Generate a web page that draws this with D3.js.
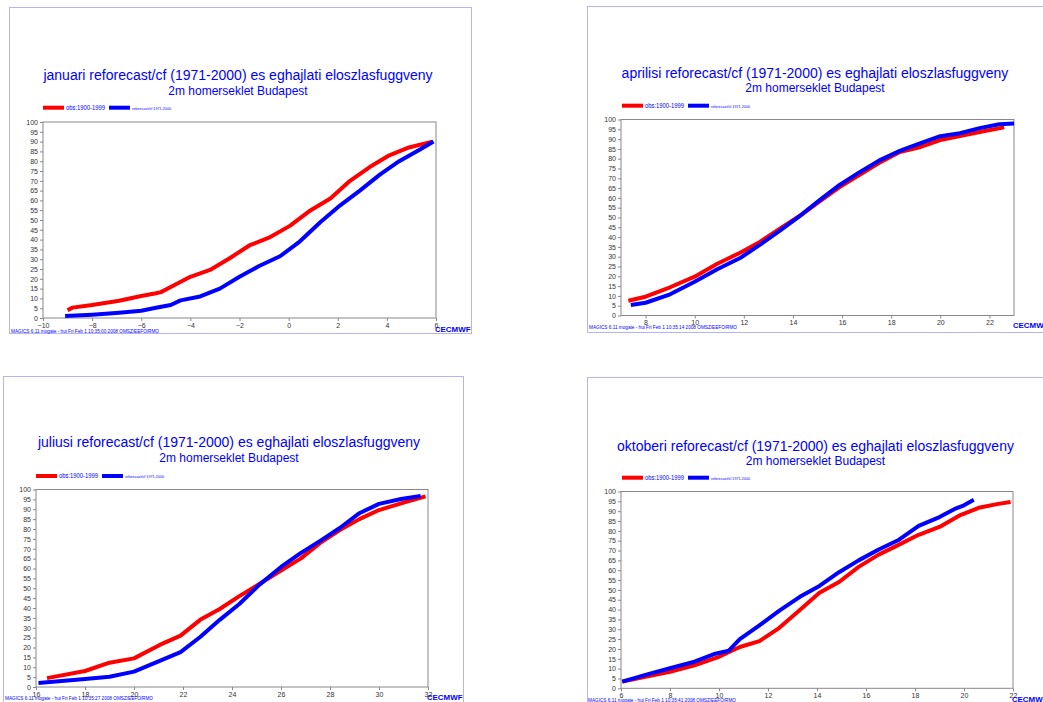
<!DOCTYPE html>
<html>
<head>
<meta charset="utf-8">
<style>
    body { margin: 0; background: white; }
    text { font-family: "Liberation Sans", Arial, sans-serif; }
</style>
</head>
<body>
<svg id="container" width="1043" height="702"></svg>
<script src="https://cdn.jsdelivr.net/npm/d3@7"></script>
<script>
    // month names used in the titles
    let months = ["januari", "aprilisi", "juliusi", "oktoberi"]
    let footTimes = ["10:35:00", "10:35:14", "10:35:27", "10:35:41"]
    let xDomains = [[-10, 6], [7, 23], [16, 32], [6, 22]]
    let xTicks = [
        [-10, -8, -6, -4, -2, 0, 2, 4, 6],
        [8, 10, 12, 14, 16, 18, 20, 22],
        [16, 18, 20, 22, 24, 26, 28, 30, 32],
        [6, 8, 10, 12, 14, 16, 18, 20, 22]
    ]
    let yTicks = d3.range(0, 101, 5)

    // [temperature, cumulative percent]
    let janObs = [[-9.0, 4], [-8.8, 5.3], [-8.0, 6.6], [-6.9, 8.8], [-6.0, 11.2], [-5.4, 12.6], [-5.2, 13.2], [-4.8, 15.8], [-4.0, 21], [-3.2, 24.5], [-2.4, 30.5], [-1.6, 37], [-0.8, 41], [0.05, 47], [0.9, 55], [1.7, 61], [2.5, 70], [3.3, 77], [4.1, 83], [4.9, 87], [5.85, 90]]
    let janRef = [[-9.1, 1], [-8.0, 1.7], [-6.9, 2.7], [-6.0, 3.7], [-5.4, 5.2], [-4.8, 6.6], [-4.4, 9], [-3.6, 11], [-2.8, 15], [-2.0, 21], [-1.2, 26.5], [-0.35, 31.5], [0.45, 39], [1.3, 49], [2.1, 57.5], [2.9, 65], [3.7, 73], [4.5, 80], [5.35, 86], [5.9, 90]]
    let aprObs = [[7.3, 7.5], [8, 9.6], [9, 14.4], [10, 19.8], [10.9, 26.3], [11.85, 32], [12.65, 37.5], [13.5, 44.6], [14.3, 51], [15.1, 58.4], [15.9, 65.5], [16.7, 71.6], [17.5, 77.8], [18.35, 83.4], [19.2, 86], [20, 89.5], [20.8, 91.5], [21.6, 93.6], [22.6, 96]]
    let aprRef = [[7.4, 5.4], [8, 6.5], [9, 10.8], [10, 17.2], [10.9, 23.5], [11.85, 29.3], [12.65, 36], [13.5, 43.6], [14.3, 51], [15.1, 59], [15.9, 66.6], [16.7, 73], [17.5, 79], [18.35, 84], [19.2, 88], [20, 91.5], [20.8, 93], [21.6, 95.6], [22.4, 97.6], [23, 98]]
    let julObs = [[16.45, 4.5], [18, 8.1], [19, 12.3], [20, 14.5], [21.05, 21.3], [21.9, 26], [22.7, 34], [23.5, 39.5], [24.3, 46], [25.1, 52], [26, 59], [26.8, 65], [27.6, 73], [28.4, 79.5], [29.2, 85], [30, 89.6], [30.9, 93], [31.9, 96.5]]
    let julRef = [[16.1, 2], [18, 4], [19, 5.2], [20, 7.8], [21.05, 13.2], [21.9, 17.7], [22.7, 25.3], [23.5, 34], [24.3, 42], [25.1, 51.6], [26, 60.8], [26.8, 67.8], [27.6, 74], [28.4, 80.5], [29.2, 88], [30, 92.7], [30.9, 95.2], [31.7, 96.7]]
    let octObs = [[6.05, 3.4], [7, 5.9], [8, 8.4], [9, 11.7], [10, 16], [10.85, 21], [11.65, 24], [12.45, 30.6], [13.3, 39.8], [14.1, 48.5], [14.9, 54], [15.7, 61.7], [16.5, 67.8], [17.35, 73], [18.15, 78], [19, 82], [19.8, 87.7], [20.6, 91.7], [21.4, 93.7], [21.9, 94.7]]
    let octRef = [[6.05, 3.4], [7, 6.8], [8, 10.2], [9, 13.5], [9.8, 17.4], [10.4, 19.1], [10.85, 25], [11.65, 32], [12.45, 39.3], [13.3, 46.5], [14.1, 52], [14.9, 59], [15.7, 65], [16.5, 70.4], [17.35, 75.5], [18.15, 82.5], [19, 87], [19.6, 91], [20, 93], [20.4, 95.8]]
    let obsSeries = [janObs, aprObs, julObs, octObs]
    let refSeries = [janRef, aprRef, julRef, octRef]

    let obsLabel = "obs:1900-1999"
    let refLabel = "reforecast/cf 1971-2000"
    let subtitle = "2m homerseklet Budapest"

    // panel placement on the page
    let layout = [
        { fx: 9, fy: 7, fw: 462, fh: 326, x0: 43, x1: 436, top: 122, bottom: 318, tx: 238, ty: 75, sy: 90.7, ly: 107.7, lx: 43, foot: 330.5, fxText: 11, logo: 332 },
        { fx: 587, fy: 6, fw: 462, fh: 326, x0: 621, x1: 1014, top: 119.5, bottom: 315.5, tx: 815, ty: 72.7, sy: 88.3, ly: 105.7, lx: 622, foot: 327, fxText: 589, logo: 327.5 },
        { fx: 3, fy: 376, fw: 460, fh: 330, x0: 36, x1: 428, top: 489.5, bottom: 687, tx: 229, ty: 441.7, sy: 458, ly: 476, lx: 36, foot: 698, fxText: 5, logo: 699.5 },
        { fx: 587, fy: 377, fw: 462, fh: 330, x0: 621, x1: 1013, top: 491.5, bottom: 688.3, tx: 815.5, ty: 446, sy: 460.7, ly: 477.7, lx: 622, foot: 700, fxText: 588, logo: 702 }
    ]

    let svg = d3.select("#container")
    let blue = "#0000ff"

    layout.forEach((p, i) => {
        let g = svg.append("g")

        g.append("rect")
            .attr("x", p.fx + 0.5).attr("y", p.fy + 0.5)
            .attr("width", p.fw).attr("height", p.fh)
            .attr("fill", "white").attr("stroke", "#b4b4f2")

        g.append("text")
            .attr("x", p.tx).attr("y", p.ty + 5)
            .attr("text-anchor", "middle")
            .attr("font-size", 14).attr("fill", blue)
            .text(months[i] + " reforecast/cf (1971-2000) es eghajlati eloszlasfuggveny")

        g.append("text")
            .attr("x", p.tx).attr("y", p.sy + 4)
            .attr("text-anchor", "middle")
            .attr("font-size", 12).attr("fill", blue)
            .text(subtitle)

        // legend
        let leg = [[obsLabel, "red", 0, 6.5], [refLabel, blue, 66, 3.6]]
        leg.forEach(l => {
            g.append("line")
                .attr("x1", p.lx + l[2]).attr("x2", p.lx + l[2] + 21)
                .attr("y1", p.ly).attr("y2", p.ly)
                .attr("stroke", l[1]).attr("stroke-width", 4)
            g.append("text")
                .attr("x", p.lx + l[2] + 23).attr("y", p.ly + 2)
                .attr("font-family", "Liberation Serif, serif")
                .attr("font-size", l[3]).attr("fill", blue)
                .attr("textLength", 39).attr("lengthAdjust", "spacingAndGlyphs")
                .text(l[0])
        })

        let x = d3.scaleLinear().domain(xDomains[i]).range([p.x0, p.x1])
        let y = d3.scaleLinear().domain([0, 100]).range([p.bottom, p.top])

        let yAxis = g.append("g")
            .attr("transform", `translate(${p.x0},0)`)
            .call(d3.axisLeft(y).tickValues(yTicks).tickSize(3).tickPadding(2))
        let xAxis = g.append("g")
            .attr("transform", `translate(0,${p.bottom})`)
            .call(d3.axisBottom(x).tickValues(xTicks[i]).tickSize(3).tickPadding(2))
        ;[yAxis, xAxis].forEach(a => {
            a.select(".domain").remove()
            a.selectAll("line").attr("stroke", "#888")
            a.selectAll("text").attr("font-size", 7).attr("fill", "#333")
                .attr("font-family", "Liberation Sans, Arial, sans-serif")
        })

        g.append("rect")
            .attr("x", p.x0).attr("y", p.top)
            .attr("width", p.x1 - p.x0).attr("height", p.bottom - p.top)
            .attr("fill", "none").attr("stroke", "#888")

        let line = d3.line().x(d => x(d[0])).y(d => y(d[1]))

        g.append("path").datum(obsSeries[i])
            .attr("d", line).attr("fill", "none")
            .attr("stroke", "red").attr("stroke-width", 4)
            .attr("stroke-linejoin", "round")
        g.append("path").datum(refSeries[i])
            .attr("d", line).attr("fill", "none")
            .attr("stroke", blue).attr("stroke-width", 4)
            .attr("stroke-linejoin", "round")

        // footer
        g.append("text")
            .attr("x", p.fxText).attr("y", p.foot + 2)
            .attr("font-size", 5).attr("fill", blue)
            .attr("textLength", 148).attr("lengthAdjust", "spacingAndGlyphs")
            .text("MAGICS 6.11 mogate - hui Fri Feb  1 " + footTimes[i] + " 2008 OMSZ/EEFO/RMO")

        let logo = g.append("g").attr("transform", `translate(${p.x1 - 1},${p.logo})`)
        logo.append("text")
            .attr("x", 0).attr("y", 0)
            .attr("font-size", 7.5).attr("font-weight", "bold").attr("fill", blue)
            .text("C")
        logo.append("text")
            .attr("x", 5.5).attr("y", 0)
            .attr("font-size", 6.5).attr("font-weight", "bold").attr("fill", blue)
            .attr("textLength", 30).attr("lengthAdjust", "spacingAndGlyphs")
            .text("ECMWF")
    })
</script>
</body>
</html>
